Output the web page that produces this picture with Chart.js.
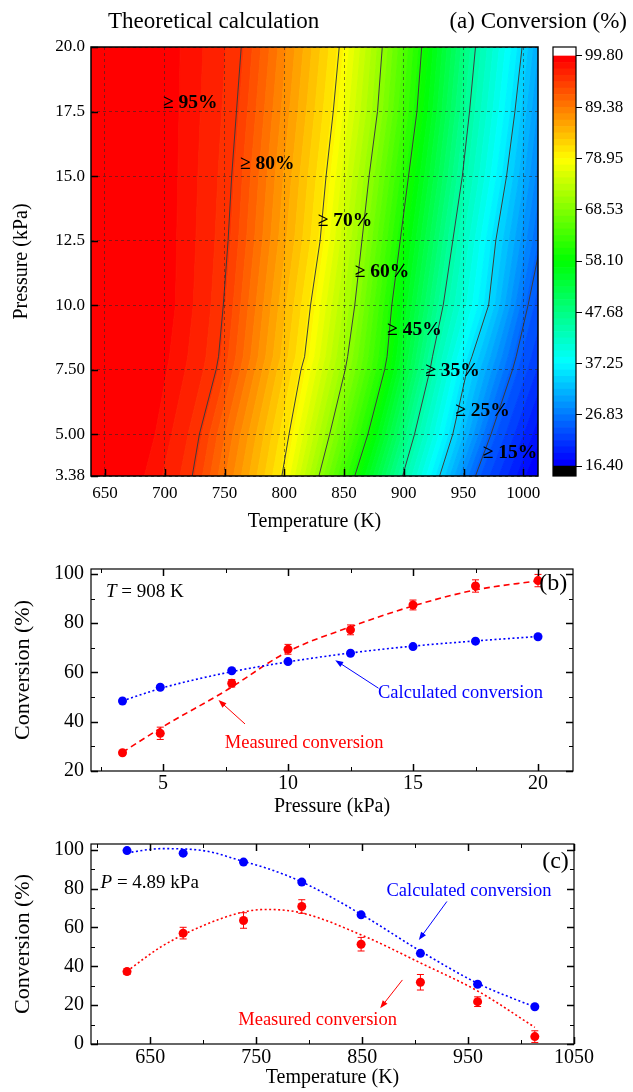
<!DOCTYPE html>
<html>
<head>
<meta charset="utf-8">
<script src="https://cdn.jsdelivr.net/npm/chart.js@4.4.1/dist/chart.umd.min.js"></script>
<style>
html, body { margin: 0; padding: 0; background: #fff; }
#wrap { position: relative; width: 633px; height: 1092px; overflow: hidden; }
canvas { position: absolute; left: 0; }
</style>
</head>
<body>
<div id="wrap">
  <canvas id="chartA" width="633" height="540" style="top:0"></canvas>
  <canvas id="chartBar" width="93" height="540" style="left:540px;top:0"></canvas>
  <canvas id="chartB" width="633" height="290" style="top:540px"></canvas>
  <canvas id="chartC" width="633" height="262" style="top:830px"></canvas>
</div>
<script>
// ---- (a) contour data: temperature (K) of each iso-conversion line at each pressure
const contourPressures = [3.38, 5, 7.5, 8, 10, 12.5, 15, 17.5, 20]
const contourLevels = [98.5, 95, 80, 70, 60, 45, 35, 25, 15]
const iso985 = [683, 692, 702, 704, 709, 710, 711, 712, 713]
const iso95 = [723, 729, 743, 745, 749, 753, 756, 760, 764]
const iso80 = [798, 804, 814, 817, 822, 830, 835, 841, 846]
const iso70 = [829, 838, 851, 853, 859, 865, 871, 878, 882]
const iso60 = [859, 870, 884, 886, 890, 897, 904, 911, 915]
const iso45 = [899, 909, 922, 924, 933, 941, 949, 955, 960]
const iso35 = [930, 941, 953, 957, 971, 977, 986, 993, 999]
const iso25 = [960, 973, 991, 994, 1004, 1015, 1022, 1027, 1032]
const iso15 = [1018, 1032, 1052, 1056, 1073, 1089, 1102, 1110, 1119]
const drawnLines = [iso95, iso80, iso70, iso60, iso45, iso35, iso25]
const tempTicksA = [650, 700, 750, 800, 850, 900, 950, 1000]
const pressTicksA = [3.38, 5, 7.5, 10, 12.5, 15, 17.5, 20]
const pressLabelsA = ['3.38', '5.00', '7.50', '10.0', '12.5', '15.0', '17.5', '20.0']

// colour scale
const cbMin = 16.4
const cbMax = 99.8
const nBands = 64
const cbTicks = [16.40, 26.83, 37.25, 47.68, 58.10, 68.53, 78.95, 89.38, 99.80]

// ---- (b) T = 908 K
const pressureB = [3.38, 4.89, 7.75, 10, 12.5, 15, 17.5, 20]
const calcB = [48.4, 54.0, 60.7, 64.4, 67.8, 70.5, 72.7, 74.5]
const measB = [27.4, 35.3, 55.6, 69.4, 77.3, 87.4, 95.1, 97.3]
const measErrB = [0.8, 2.5, 1.5, 2.0, 2.0, 2.0, 2.5, 2.5]
const fitPressB = [3.38, 5, 7.5, 10, 12.5, 15, 17.5, 20]
const calcFitB = [48.5, 53.8, 59.8, 64.3, 67.9, 70.7, 72.8, 74.6]
const measFitB = [27.6, 38, 52.5, 68.5, 78.5, 87, 93.5, 97.2]

// ---- (c) P = 4.89 kPa
const tempC = [628, 681, 738, 793, 849, 905, 959, 1013]
const calcC = [99.6, 98.3, 93.7, 83.4, 66.5, 46.7, 30.8, 19.2]
const measC = [37.3, 57.1, 63.6, 70.8, 51.4, 31.8, 21.8, 3.8]
const measErrC = [1.5, 3, 4, 3.5, 3.5, 4, 2.5, 3]
const fitTempC = [628, 660, 700, 738, 760, 793, 850, 906, 960, 1013]
const calcFitC = [98.5, 100.6, 99.6, 94, 90.5, 83.5, 66.5, 47.5, 31, 19]
const measFitC = [37.5, 50, 61, 68, 69.3, 67.5, 56, 41.5, 27, 8.6]

const serif = '"Liberation Serif", "Times New Roman", serif'
Chart.defaults.font.family = serif
Chart.defaults.color = '#000'
Chart.defaults.animation = false
Chart.defaults.events = []
Chart.defaults.plugins.legend.display = false
Chart.defaults.plugins.tooltip.enabled = false

const isoTable = [iso985, iso95, iso80, iso70, iso60, iso45, iso35, iso25, iso15]

function isoT(level, i) {
    for (let j = 0; j < contourLevels.length - 1; j++) {
        const a = contourLevels[j], b = contourLevels[j + 1]
        if (level <= a && level >= b) {
            const f = (a - level) / (a - b)
            return isoTable[j][i] + f * (isoTable[j + 1][i] - isoTable[j][i])
        }
    }
    return level > contourLevels[0] ? isoTable[0][i] : isoTable[isoTable.length - 1][i]
}

function bandColor(k) {
    return 'hsl(' + ((nBands - 1 - k) / (nBands - 1) * 240).toFixed(1) + ',100%,50%)'
}

// frame and inward ticks
const frameTicks = {
    id: 'frameTicks',
    afterDraw(chart, args, o) {
        const { ctx, chartArea: a, scales: { x, y } } = chart
        ctx.save()
        ctx.strokeStyle = '#000'
        const mark = (list, len, horiz) => {
            (list || []).forEach(v => {
                ctx.beginPath()
                if (horiz) {
                    const px = Math.round(x.getPixelForValue(v)) + 0.5
                    ctx.moveTo(px, a.bottom); ctx.lineTo(px, a.bottom - len)
                    if (o.all) { ctx.moveTo(px, a.top); ctx.lineTo(px, a.top + len) }
                } else {
                    const py = Math.round(y.getPixelForValue(v)) + 0.5
                    ctx.moveTo(a.left, py); ctx.lineTo(a.left + len, py)
                    if (o.all) { ctx.moveTo(a.right, py); ctx.lineTo(a.right - len, py) }
                }
                ctx.stroke()
            })
        }
        ctx.lineWidth = 1.5
        mark(o.xMajor, 7, true)
        mark(o.yMajor, 7, false)
        ctx.lineWidth = 1
        mark(o.xMinor, 4, true)
        mark(o.yMinor, 4, false)
        ctx.lineWidth = o.frame || 1.2
        ctx.strokeRect(a.left, a.top, a.width, a.height)
        ctx.restore()
    }
}

function drawArrow(ctx, x1, y1, x2, y2, color) {
    const ang = Math.atan2(y2 - y1, x2 - x1)
    ctx.strokeStyle = color
    ctx.fillStyle = color
    ctx.lineWidth = 1
    ctx.beginPath()
    ctx.moveTo(x1, y1)
    ctx.lineTo(x2 - 6 * Math.cos(ang), y2 - 6 * Math.sin(ang))
    ctx.stroke()
    ctx.beginPath()
    ctx.moveTo(x2, y2)
    ctx.lineTo(x2 - 8 * Math.cos(ang) + 3 * Math.sin(ang), y2 - 8 * Math.sin(ang) - 3 * Math.cos(ang))
    ctx.lineTo(x2 - 8 * Math.cos(ang) - 3 * Math.sin(ang), y2 - 8 * Math.sin(ang) + 3 * Math.cos(ang))
    ctx.closePath()
    ctx.fill()
}

// texts / arrows placed in data coordinates, plus fixed page titles
const notes = {
    id: 'notes',
    afterDraw(chart, args, o) {
        const { ctx, scales: { x, y } } = chart
        ctx.save()
        ctx.textBaseline = 'middle'
        ;(o.arrows || []).forEach(ar => {
            drawArrow(ctx, x.getPixelForValue(ar[0]), y.getPixelForValue(ar[1]),
                x.getPixelForValue(ar[2]), y.getPixelForValue(ar[3]), ar[4])
        })
        ;(o.texts || []).forEach(t => {
            let px = t.px !== undefined ? t.px : x.getPixelForValue(t.x)
            const py = t.py !== undefined ? t.py : y.getPixelForValue(t.y)
            const parts = t.parts || [{ text: t.text, font: t.font }]
            ctx.fillStyle = t.color || '#000'
            if (t.align === 'right') {
                let w = 0
                parts.forEach(p => { ctx.font = p.font; w += ctx.measureText(p.text).width })
                px -= w
            }
            ctx.textAlign = 'left'
            parts.forEach(p => {
                ctx.font = p.font
                ctx.fillText(p.text, px, py)
                px += ctx.measureText(p.text).width
            })
        })
        ctx.restore()
    }
}

// error bars for a dataset
const errorBars = {
    id: 'errorBars',
    afterDatasetsDraw(chart, args, o) {
        const { ctx, scales: { x, y } } = chart
        const data = chart.data.datasets[o.index].data
        ctx.save()
        ctx.strokeStyle = o.color
        ctx.lineWidth = 1
        data.forEach((d, i) => {
            const px = x.getPixelForValue(d.x)
            const top = y.getPixelForValue(d.y + o.errors[i])
            const bot = y.getPixelForValue(d.y - o.errors[i])
            ctx.beginPath()
            ctx.moveTo(px, top); ctx.lineTo(px, bot)
            ctx.moveTo(px - 3.5, top); ctx.lineTo(px + 3.5, top)
            ctx.moveTo(px - 3.5, bot); ctx.lineTo(px + 3.5, bot)
            ctx.stroke()
        })
        ctx.restore()
    }
}

const zip = (xs, ys) => xs.map((v, i) => ({ x: v, y: ys[i] }))
const fixTicks = list => scale => { scale.ticks = list.map(v => ({ value: v })) }

// ---------------- panel (a)
const xMinA = 638.3, xMaxA = 1012.3
const bandSets = []
for (let k = 0; k < nBands; k++) {
    const lo = cbMin + k * (cbMax - cbMin) / nBands
    const hi = lo + (cbMax - cbMin) / nBands
    const pts = []
    contourPressures.forEach((p, i) => {
        pts.push({ x: k === nBands - 1 ? xMinA - 40 : isoT(hi, i), y: p })
    })
    for (let i = contourPressures.length - 1; i >= 0; i--) {
        pts.push({ x: k === 0 ? xMaxA + 40 : isoT(lo, i), y: contourPressures[i] })
    }
    bandSets.push({
        data: pts, fill: 'shape', backgroundColor: bandColor(k), borderColor: bandColor(k),
        borderWidth: 1, pointRadius: 0, tension: 0, order: 2
    })
}
const lineSets = drawnLines.map(tbl => ({
    data: zip(tbl, contourPressures), borderColor: '#3c3c3c', borderWidth: 1,
    pointRadius: 0, fill: false, tension: 0, order: 0
}))

const boldF = 'bold 19.5px ' + serif
const gridA = { color: 'rgba(40,40,40,0.7)', lineWidth: 0.8, drawTicks: false, z: 1 }
new Chart(document.getElementById('chartA'), {
    type: 'line',
    data: { datasets: bandSets.concat(lineSets) },
    options: {
        responsive: false,
        layout: { padding: { left: 10, right: 95, top: 47, bottom: 6 } },
        scales: {
            x: {
                type: 'linear', min: xMinA, max: xMaxA,
                afterBuildTicks: fixTicks(tempTicksA),
                afterFit(s) { s.height = 58; s.paddingLeft = 0; s.paddingRight = 0 },
                grid: gridA,
                border: { display: false, dash: [3, 3] },
                ticks: { padding: 7, font: { size: 17 }, autoSkip: false, maxRotation: 0, callback: v => String(v) },
                title: { display: true, text: 'Temperature (K)', font: { size: 20 }, padding: 0 }
            },
            y: {
                type: 'linear', min: 3.38, max: 20,
                afterBuildTicks: fixTicks(pressTicksA),
                afterFit(s) { s.width = 81; s.paddingTop = 0; s.paddingBottom = 0 },
                grid: gridA,
                border: { display: false, dash: [3, 3] },
                ticks: {
                    padding: 6, font: { size: 17 }, autoSkip: false,
                    callback: v => pressLabelsA[pressTicksA.indexOf(v)]
                },
                title: { display: true, text: 'Pressure (kPa)', font: { size: 20 }, padding: 0 }
            }
        },
        plugins: {
            frameTicks: { xMajor: tempTicksA, yMajor: pressTicksA, frame: 1.5 },
            notes: {
                texts: [
                    { text: 'Theoretical calculation', font: '23px ' + serif, px: 108, py: 22 },
                    { text: '(a) Conversion (%)', font: '23px ' + serif, px: 627, py: 22, align: 'right' },
                    { text: '≥ 95%', font: boldF, x: 698.5, y: 17.85 },
                    { text: '≥ 80%', font: boldF, x: 763, y: 15.48 },
                    { text: '≥ 70%', font: boldF, x: 828, y: 13.26 },
                    { text: '≥ 60%', font: boldF, x: 859, y: 11.28 },
                    { text: '≥ 45%', font: boldF, x: 886, y: 9.02 },
                    { text: '≥ 35%', font: boldF, x: 918, y: 7.43 },
                    { text: '≥ 25%', font: boldF, x: 943, y: 5.91 },
                    { text: '≥ 15%', font: boldF, x: 966, y: 4.27 }
                ]
            }
        }
    },
    plugins: [frameTicks, notes]
})

// ---------------- colour bar
const cbStep = (cbMax - cbMin) / nBands
const cbSets = [{ data: [cbMin], backgroundColor: '#000' }]
for (let k = 0; k < nBands; k++) cbSets.push({ data: [cbStep], backgroundColor: bandColor(k) })
cbSets.push({ data: [5], backgroundColor: '#fff' })
cbSets.forEach(s => { s.barPercentage = 1; s.categoryPercentage = 1; s.borderWidth = 0 })

new Chart(document.getElementById('chartBar'), {
    type: 'bar',
    data: { labels: [''], datasets: cbSets },
    options: {
        responsive: false,
        layout: { padding: { left: 13, right: 0, top: 47, bottom: 64 } },
        scales: {
            x: { stacked: true, display: false },
            y: {
                stacked: true, position: 'right', min: 14.37, max: 101.63,
                afterBuildTicks: fixTicks(cbTicks),
                afterFit(s) { s.width = 57; s.paddingTop = 0; s.paddingBottom = 0 },
                grid: { drawOnChartArea: false, drawTicks: true, tickLength: 6, color: '#000', lineWidth: 1 },
                border: { display: false },
                ticks: { padding: 3, font: { size: 17 }, autoSkip: false, callback: v => v.toFixed(2) }
            }
        },
        plugins: { frameTicks: { frame: 1.2 } }
    },
    plugins: [frameTicks]
})

// ---------------- panels (b) and (c)
function sidePanel(id, cfg) {
    new Chart(document.getElementById(id), {
        type: 'line',
        data: {
            datasets: [
                { data: zip(cfg.fitX, cfg.calcFit), borderColor: '#0000ff', borderWidth: 1.6,
                  borderDash: [2, 2.5], pointRadius: 0, cubicInterpolationMode: 'monotone', order: 3 },
                { data: zip(cfg.fitX, cfg.measFit), borderColor: '#ff0000', borderWidth: 1.6,
                  borderDash: cfg.measDash, pointRadius: 0, cubicInterpolationMode: 'monotone', order: 3 },
                { data: zip(cfg.xs, cfg.calc), showLine: false, pointRadius: 4.5,
                  pointBackgroundColor: '#0000ff', pointBorderWidth: 0, order: 1 },
                { data: zip(cfg.xs, cfg.meas), showLine: false, pointRadius: 4.5,
                  pointBackgroundColor: '#ff0000', pointBorderWidth: 0, order: 1 }
            ]
        },
        options: {
            responsive: false,
            layout: { padding: cfg.padding },
            scales: {
                x: {
                    type: 'linear', min: cfg.xMin, max: cfg.xMax,
                    afterBuildTicks: fixTicks(cfg.xTicks),
                    afterFit(s) { s.height = cfg.xAxisH; s.paddingLeft = 0; s.paddingRight = 0 },
                    grid: { display: false, drawTicks: false }, border: { display: false },
                    ticks: { padding: cfg.xPad, font: { size: 20 }, autoSkip: false, maxRotation: 0, callback: v => String(v) },
                    title: { display: true, text: cfg.xTitle, font: { size: 20 }, padding: 0 }
                },
                y: {
                    type: 'linear', min: cfg.yMin, max: cfg.yMax,
                    afterBuildTicks: fixTicks(cfg.yTicks),
                    afterFit(s) { s.width = 81; s.paddingTop = 0; s.paddingBottom = 0 },
                    grid: { display: false, drawTicks: false }, border: { display: false },
                    ticks: { padding: 7, font: { size: 20 }, autoSkip: false, callback: v => String(v) },
                    title: { display: true, text: 'Conversion (%)', font: { size: 22 }, padding: 0 }
                }
            },
            plugins: {
                frameTicks: { all: true, xMajor: cfg.xTicks, xMinor: cfg.xMinor,
                              yMajor: cfg.yTicks, yMinor: cfg.yMinor, frame: 1.2 },
                errorBars: { index: 3, errors: cfg.errors, color: '#ff0000' },
                notes: { texts: cfg.texts, arrows: cfg.arrows }
            }
        },
        plugins: [errorBars, frameTicks, notes]
    })
}

const f19 = '19px ' + serif
const f19i = 'italic 19px ' + serif
const f18 = '18.5px ' + serif

sidePanel('chartB', {
    xs: pressureB, calc: calcB, meas: measB, errors: measErrB,
    fitX: fitPressB, calcFit: calcFitB, measFit: measFitB, measDash: [6, 4],
    xMin: 2.12, xMax: 21.4, yMin: 20, yMax: 102,
    xTicks: [5, 10, 15, 20], xMinor: [2.5, 7.5, 12.5, 17.5],
    yTicks: [20, 40, 60, 80, 100], yMinor: [30, 50, 70, 90],
    xTitle: 'Pressure (kPa)', xAxisH: 48, xPad: 1,
    padding: { left: 10, right: 60, top: 29, bottom: 11 },
    texts: [
        { parts: [{ text: 'T', font: f19i }, { text: ' = 908 K', font: f19 }], x: 2.72, y: 92.5 },
        { text: '(b)', font: '24px ' + serif, x: 20.05, y: 96 },
        { text: 'Calculated conversion', font: f18, color: '#0000ff', x: 13.6, y: 51.6 },
        { text: 'Measured conversion', font: f18, color: '#ff0000', x: 7.47, y: 31.2 }
    ],
    arrows: [[13.62, 53.6, 11.89, 65.0, '#0000ff'], [8.28, 39.1, 7.22, 48.8, '#ff0000']]
})

sidePanel('chartC', {
    xs: tempC, calc: calcC, meas: measC, errors: measErrC,
    fitX: fitTempC, calcFit: calcFitC, measFit: measFitC, measDash: [2, 2.5],
    xMin: 594, xMax: 1050, yMin: 0, yMax: 103,
    xTicks: [650, 750, 850, 950, 1050], xMinor: [600, 700, 800, 900, 1000],
    yTicks: [0, 20, 40, 60, 80, 100], yMinor: [10, 30, 50, 70, 90],
    xTitle: 'Temperature (K)', xAxisH: 46, xPad: 2,
    padding: { left: 10, right: 59, top: 14, bottom: 2 },
    texts: [
        { parts: [{ text: 'P', font: f19i }, { text: ' = 4.89 kPa', font: f19 }], x: 603, y: 82.8 },
        { text: '(c)', font: '24px ' + serif, x: 1020, y: 94 },
        { text: 'Calculated conversion', font: f18, color: '#0000ff', x: 873, y: 78.5 },
        { text: 'Measured conversion', font: f18, color: '#ff0000', x: 733, y: 12.4 }
    ],
    arrows: [[930, 73.4, 903.5, 53.6, '#0000ff'], [888, 33, 867, 18.4, '#ff0000']]
})
</script>
</body>
</html>
